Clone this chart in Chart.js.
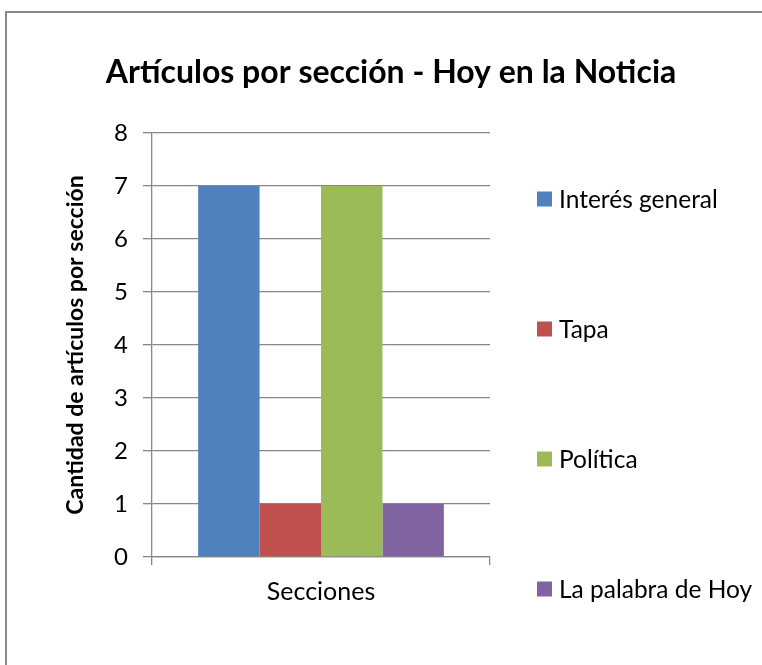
<!DOCTYPE html>
<html>
<head>
<meta charset="utf-8">
<script src="https://cdn.jsdelivr.net/npm/chart.js@4.4.0/dist/chart.umd.min.js"></script>
<style>
  html, body { margin: 0; padding: 0; background: #fff; overflow: hidden; }
  #frame { position: absolute; left: 5px; top: 11px; width: 2000px; height: 2000px; border: 2px solid #868686; box-sizing: border-box; }
  #wrap { position: absolute; left: 0; top: 0; width: 762px; height: 665px; }
</style>
</head>
<body>
<div id="frame"></div>
<div id="wrap"><canvas id="c" width="762" height="665"></canvas></div>
<script>
const categories = ['Secciones'];
const seriesNames = ['Interés general', 'Tapa', 'Política', 'La palabra de Hoy'];
const seriesValues = [[7], [1], [7], [1]];
const seriesColors = ['#4F81BD', '#C0504D', '#9BBB59', '#8064A2'];
const yTicks = [0, 1, 2, 3, 4, 5, 6, 7, 8];
const chartTitle = 'Artículos por sección - Hoy en la Noticia';
const yAxisTitle = 'Cantidad de artículos por sección';

const FONT = 'Lato, "Open Sans", sans-serif';
const GRID = '#878787';

const sideLegend = {
  id: 'sideLegend',
  afterDraw(chart, args, opts) {
    const ctx = chart.ctx;
    ctx.save();
    ctx.font = opts.fontSize + 'px ' + FONT;
    ctx.textBaseline = 'middle';
    ctx.textAlign = 'left';
    chart.data.datasets.forEach((ds, i) => {
      const cy = opts.top + i * opts.spacing;
      ctx.fillStyle = ds.backgroundColor;
      ctx.fillRect(opts.x, cy - opts.box / 2, opts.box, opts.box);
      ctx.fillStyle = '#000';
      ctx.fillText(ds.label, opts.x + opts.box + opts.gap, cy + 1);
    });
    ctx.restore();
  }
};

new Chart(document.getElementById('c'), {
  type: 'bar',
  data: {
    labels: categories,
    datasets: seriesNames.map((n, i) => ({
      label: n,
      data: seriesValues[i],
      backgroundColor: seriesColors[i],
      borderWidth: 0,
      categoryPercentage: 0.727,
      barPercentage: 1.0,
      yAxisID: 'y'
    }))
  },
  plugins: [sideLegend],
  options: {
    responsive: false,
    animation: false,
    layout: { padding: { left: 20, right: 0, top: 0, bottom: 0 } },
    plugins: {
      legend: { display: false },
      tooltip: { enabled: false },
      title: {
        display: true,
        text: chartTitle,
        color: '#000',
        font: { family: FONT, size: 32, weight: 'bold' },
        padding: { top: 53, bottom: 41.6 }
      },
      sideLegend: { x: 537, top: 199, spacing: 130, box: 15, gap: 7, fontSize: 24.5 }
    },
    scales: {
      x: {
        offset: true,
        afterFit(scale) { scale.height = 108; },
        grid: { display: true, drawOnChartArea: false, drawTicks: true, tickLength: 8, color: GRID, lineWidth: 1.3 },
        border: { display: true, color: GRID, width: 1.3 },
        ticks: { color: '#000', padding: 12, font: { family: FONT, size: 25 } }
      },
      y: {
        position: 'left',
        min: 0, max: 8,
        afterBuildTicks(scale) { scale.ticks = yTicks.map(v => ({ value: v })); },
        afterFit(scale) { scale.width = 132; },
        grid: { color: GRID, lineWidth: 1.3, drawTicks: true, tickLength: 9 },
        border: { display: true, color: GRID, width: 1.3 },
        ticks: { color: '#000', padding: 15, font: { family: FONT, size: 24 } },
        title: {
          display: true,
          text: yAxisTitle,
          color: '#000',
          font: { family: FONT, size: 23, weight: 'bold' },
          padding: { top: 41.4, bottom: 0 }
        }
      },
      yRight: {
        type: 'linear',
        position: 'right',
        display: true,
        afterFit(scale) { scale.width = 272; },
        grid: { display: false, drawOnChartArea: false },
        border: { display: false },
        ticks: { display: false }
      }
    }
  }
});
</script>
</body>
</html>
